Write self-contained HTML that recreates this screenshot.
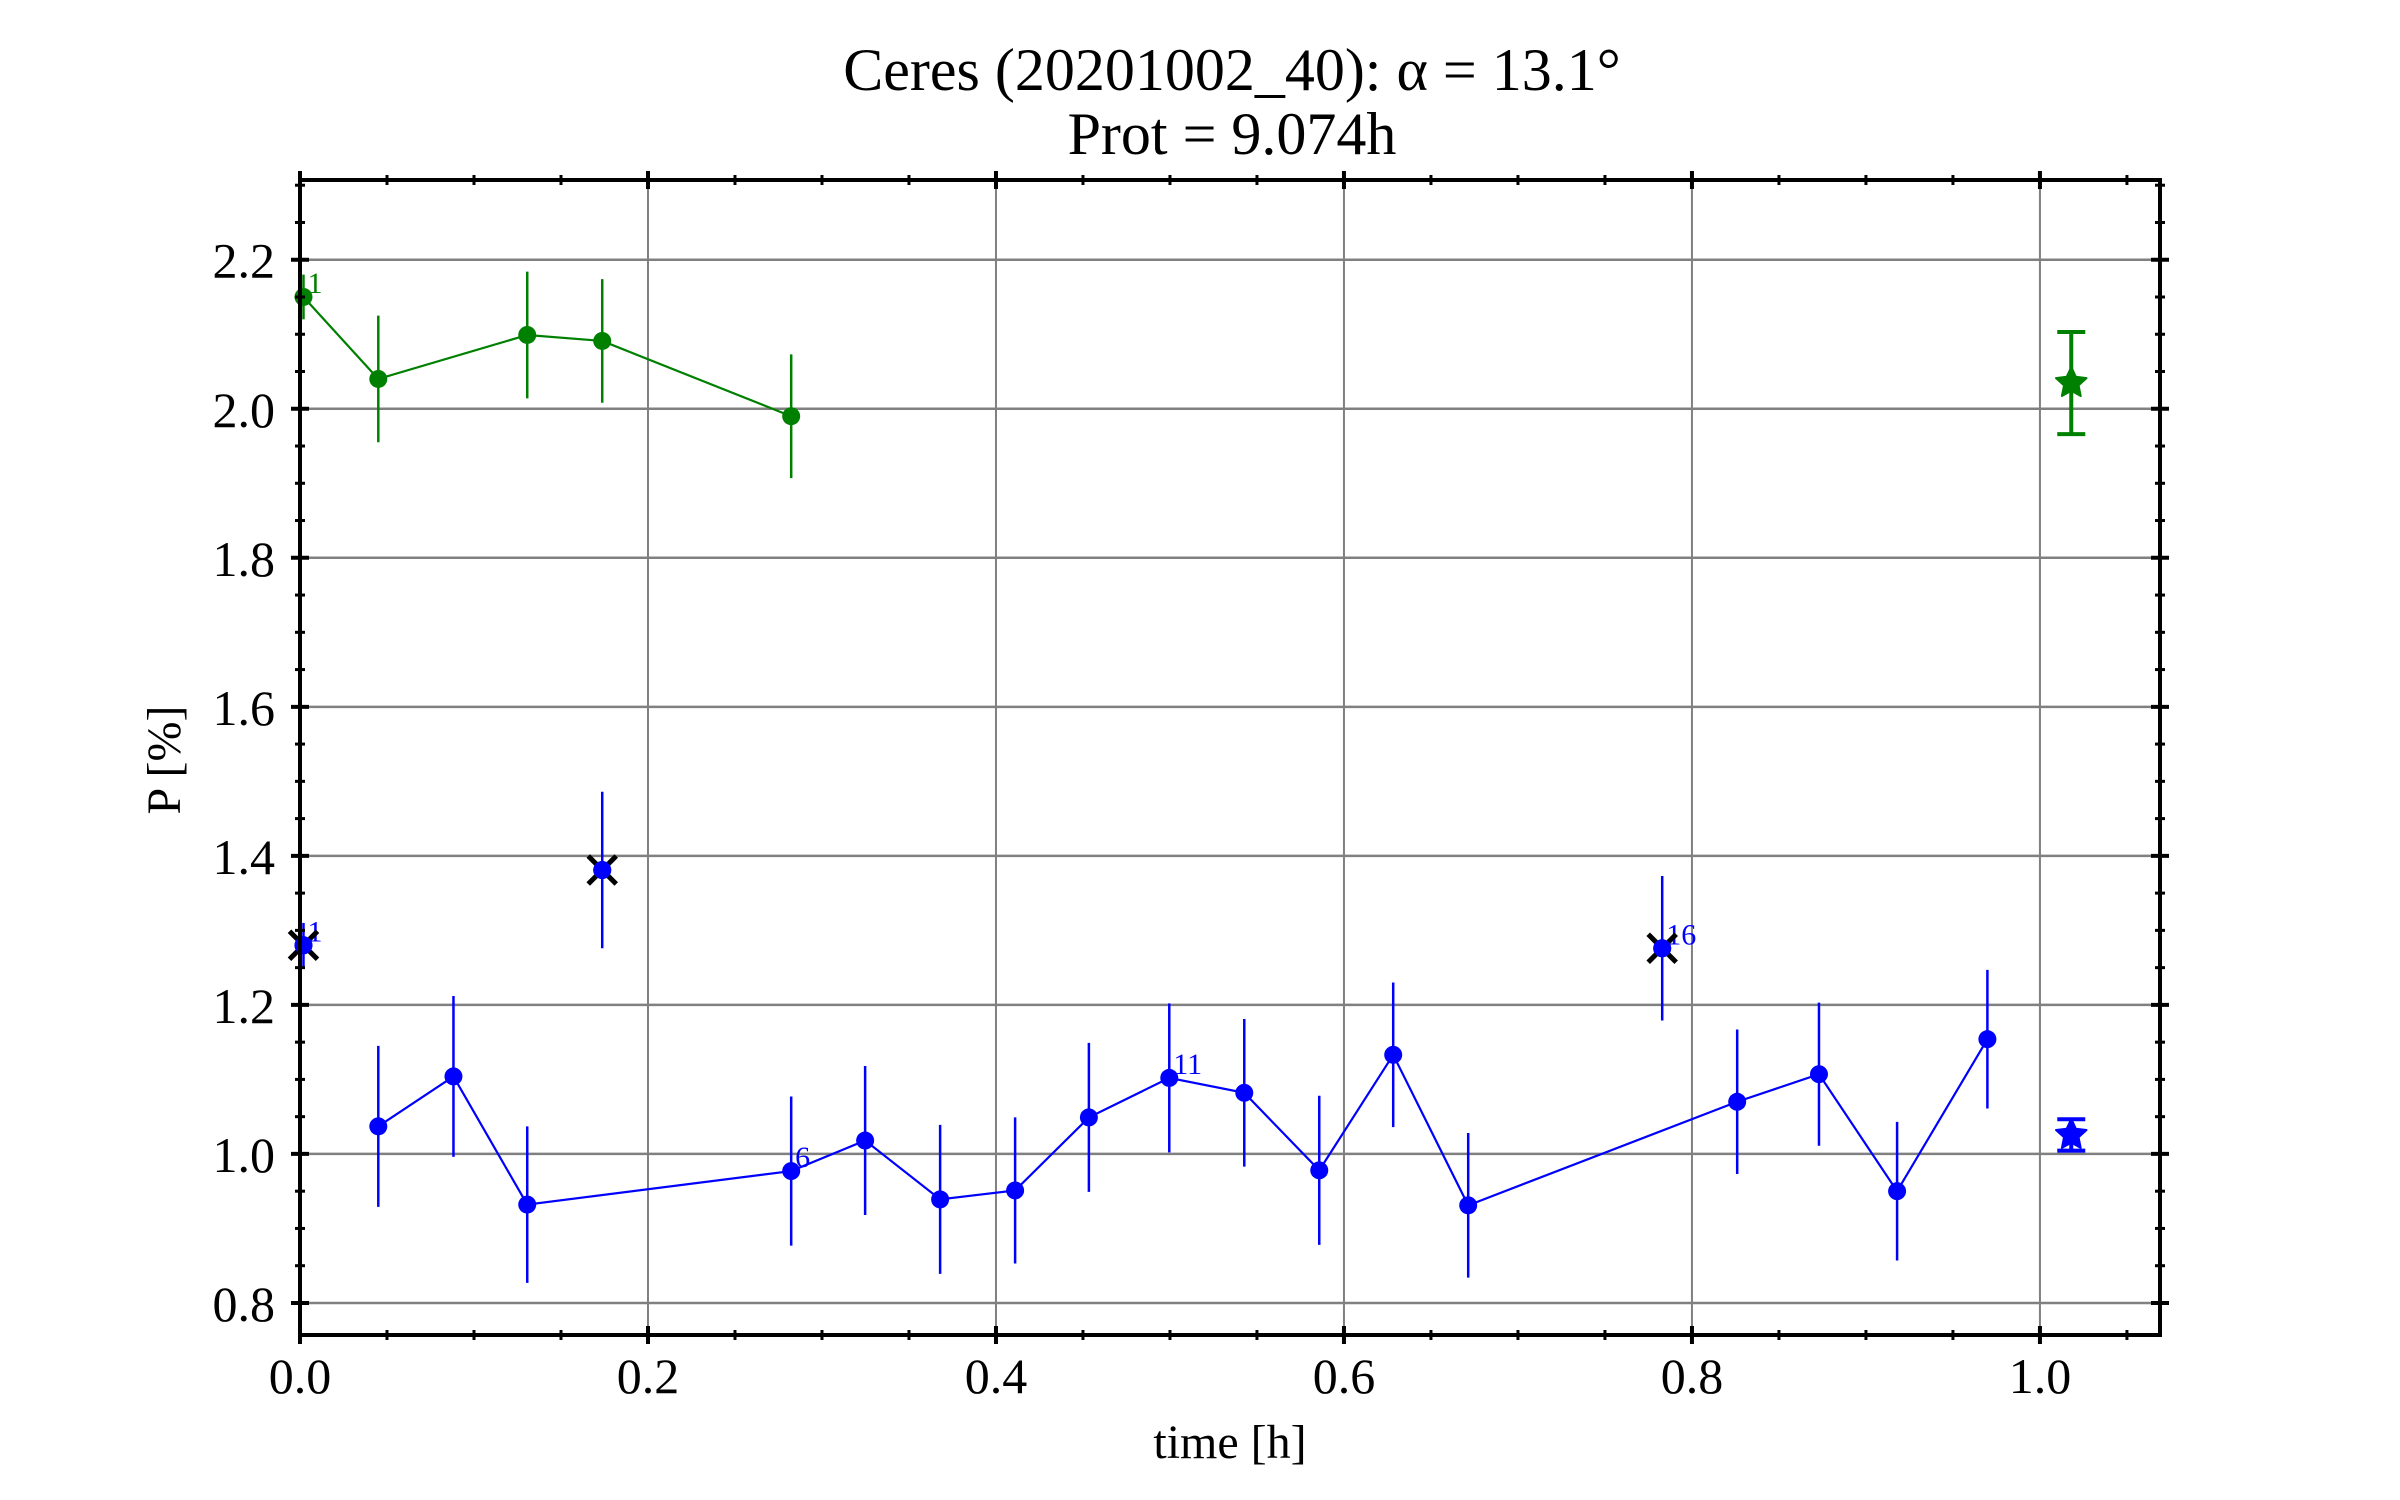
<!DOCTYPE html>
<html><head><meta charset="utf-8"><style>
html,body{margin:0;padding:0;background:#fff}
svg{display:block}
text{font-family:"Liberation Serif",serif}
</style></head><body>
<svg id="chart" width="2400" height="1500" xmlns="http://www.w3.org/2000/svg">
<rect width="2400" height="1500" fill="#fff"/>
<text x="1232" y="90" font-size="60" text-anchor="middle">Ceres (20201002_40): α = 13.1°</text>
<text x="1232" y="154" font-size="60" text-anchor="middle">Prot = 9.074h</text>
<g id="grid"></g>
<g id="series"></g>
<g id="axes"></g>
<text x="1230" y="1458" font-size="48" text-anchor="middle">time [h]</text>
<text x="0" y="0" font-size="48" text-anchor="middle" transform="translate(180,760) rotate(-90)">P [%]</text>
</svg>
<script>
const xTicks=[0,0.2,0.4,0.6,0.8,1.0];
const xTickLabels=["0.0","0.2","0.4","0.6","0.8","1.0"];
const yTicks=[0.8,1.0,1.2,1.4,1.6,1.8,2.0,2.2];
const yTickLabels=["0.8","1.0","1.2","1.4","1.6","1.8","2.0","2.2"];
const greenT=[0.002,0.045,0.1306,0.1737,0.2823];
const greenP=[2.150,2.040,2.099,2.091,1.990];
const greenE=[0.03,0.085,0.085,0.083,0.083];
const blueT=[0.002,0.045,0.0882,0.1306,0.1737,0.2823,0.3248,0.3679,0.4110,0.4534,0.4996,0.5427,0.5858,0.6283,0.6714,0.7829,0.8260,0.8730,0.9179,0.9698];
const blueP=[1.280,1.037,1.104,0.932,1.381,0.977,1.018,0.939,0.951,1.049,1.102,1.082,0.978,1.133,0.931,1.276,1.070,1.107,0.950,1.154];
const blueE=[0.03,0.108,0.108,0.105,0.105,0.10,0.10,0.10,0.098,0.10,0.10,0.099,0.10,0.097,0.097,0.097,0.097,0.096,0.093,0.093];
const rejected=[0,4,15];
const greenMean=[1.018,2.0345,0.0685];
const blueMean=[1.018,1.0255,0.021];

const X0=300,X1=2160,Y0=180,Y1=1335;
const xMin=0,xMax=1.069,yMin=0.757,yMax=2.307;
const sx=v=>X0+(v-xMin)/(xMax-xMin)*(X1-X0);
const sy=v=>Y1-(v-yMin)/(yMax-yMin)*(Y1-Y0);
const NS="http://www.w3.org/2000/svg";
function mk(tag,attrs,parent){const e=document.createElementNS(NS,tag);for(const k in attrs)e.setAttribute(k,attrs[k]);parent.appendChild(e);return e;}
const grid=document.getElementById('grid'),series=document.getElementById('series'),axes=document.getElementById('axes');

xTicks.forEach((t,i)=>{const l=mk('line',{x1:sx(t),x2:sx(t),y1:Y0,y2:Y1,stroke:'#808080','stroke-width':2},grid);
});
yTicks.forEach((t,i)=>{const l=mk('line',{x1:X0,x2:X1,y1:sy(t),y2:sy(t),stroke:'#808080','stroke-width':2.5},grid);
});

const fr=mk('rect',{x:X0,y:Y0,width:X1-X0,height:Y1-Y0,fill:'none',stroke:'#000','stroke-width':4},axes);

for(let k=0;k<=21;k++){const v=k*0.05;if(v>xMax)break;const major=k%4===0;const L=major?9:5;const x=sx(v);
 [Y1,Y0].forEach(Y=>{const t=mk('line',{x1:x,x2:x,y1:Y-L,y2:Y+L,stroke:'#000','stroke-width':major?4:3},axes);
 });}
for(let k=0;k<40;k++){const v=0.75+k*0.05;if(v<yMin-1e-9)continue;if(v>yMax)break;const major=Math.abs((v*10)%2)<1e-6||Math.abs((v*10)%2-2)<1e-6;const L=major?9:5;const y=sy(v);
 [X0,X1].forEach(X=>{const t=mk('line',{x1:X-L,x2:X+L,y1:y,y2:y,stroke:'#000','stroke-width':major?4:3},axes);
 });}
xTicks.forEach((t,i)=>{const e=mk('text',{x:sx(t),y:1393,'font-size':50,'text-anchor':'middle'},axes);e.textContent=xTickLabels[i];
 });
yTicks.forEach((t,i)=>{const e=mk('text',{x:275,y:sy(t)+18,'font-size':50,'text-anchor':'end'},axes);e.textContent=yTickLabels[i];
 });

function drawSeries(T,P,E,color,name,skip){
 const idx=T.map((_,i)=>i).filter(i=>!skip.includes(i));
 const pl=mk('polyline',{points:idx.map(i=>sx(T[i])+','+sy(P[i])).join(' '),fill:'none',stroke:color,'stroke-width':2.2},series);
 
 T.forEach((t,i)=>{
  const eb=mk('line',{x1:sx(t),x2:sx(t),y1:sy(P[i]-E[i]),y2:sy(P[i]+E[i]),stroke:color,'stroke-width':2.5},series);
  
  const c=mk('circle',{cx:sx(t),cy:sy(P[i]),r:9,fill:color},series);
  
  if(i%5===0){const lb=mk('text',{x:sx(t)+4,y:sy(P[i])-4,'font-size':30,fill:color},series);lb.textContent=String(i+1);
   }
 });
}
drawSeries(greenT,greenP,greenE,'#008000','green-series',[]);
drawSeries(blueT,blueP,blueE,'#0000ff','blue-series',rejected);
rejected.forEach(i=>{const x=sx(blueT[i]),y=sy(blueP[i]),d=14;
 const g=mk('path',{d:`M${x-d},${y-d}L${x+d},${y+d}M${x-d},${y+d}L${x+d},${y-d}`,stroke:'#000','stroke-width':5,fill:'none'},series);
 
 const c=mk('circle',{cx:x,cy:y,r:9,fill:'#0000ff'},series);
 });

function star(cx,cy,R){let p=[];for(let k=0;k<10;k++){const r=k%2?R*0.48:R;const a=-Math.PI/2+k*Math.PI/5;p.push((cx+r*Math.cos(a)).toFixed(1)+','+(cy+r*Math.sin(a)).toFixed(1));}return p.join(' ');}
function drawMean(m,color,name){const x=sx(m[0]),y=sy(m[1]),yt=sy(m[1]+m[2]),yb=sy(m[1]-m[2]);
 const g=mk('g',{},series);
 mk('line',{x1:x,x2:x,y1:yt,y2:yb,stroke:color,'stroke-width':4},g);
 mk('line',{x1:x-14,x2:x+14,y1:yt,y2:yt,stroke:color,'stroke-width':4},g);
 mk('line',{x1:x-14,x2:x+14,y1:yb,y2:yb,stroke:color,'stroke-width':4},g);
 mk('polygon',{points:star(x,y,16),fill:color,stroke:color,'stroke-width':2,'stroke-linejoin':'round'},g);}
drawMean(greenMean,'#008000','green-mean-star');
drawMean(blueMean,'#0000ff','blue-mean-star');
</script>
</body></html>
